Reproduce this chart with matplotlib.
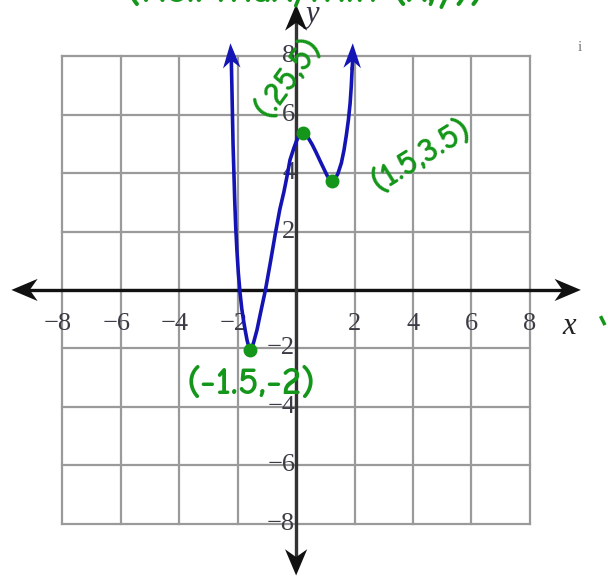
import matplotlib.pyplot as plt
import numpy as np

# points read along the graphed function
curve_x = [-2.22, -2.20, -2.18, -2.16, -2.13, -2.10, -2.07, -2.03, -1.98, -1.92,
           -1.86, -1.80, -1.74, -1.68, -1.62, -1.57, -1.51, -1.45, -1.34, -1.20,
           -1.05, -0.88, -0.71, -0.56, -0.42, -0.30, -0.21, -0.08, 0.02, 0.11,
           0.22, 0.32, 0.42, 0.55, 0.68, 0.82, 0.95, 1.05, 1.13, 1.23, 1.33,
           1.43, 1.55, 1.64, 1.72, 1.79, 1.85, 1.89, 1.92]
curve_y = [7.90, 7.00, 6.00, 5.00, 4.00, 3.00, 2.20, 1.40, 0.60, -0.10,
           -0.65, -1.05, -1.40, -1.72, -1.95, -2.05, -1.97, -1.78, -1.37, -0.70,
           0.00, 0.95, 1.94, 2.75, 3.35, 3.95, 4.45, 4.85, 5.12, 5.30,
           5.39, 5.33, 5.20, 4.98, 4.72, 4.42, 4.15, 3.94, 3.80, 3.73, 3.80,
           3.98, 4.35, 4.79, 5.30, 5.82, 6.40, 7.00, 7.60]
arrow_tips = [(-2.25, 8.45), (1.94, 8.45)]

# marked turning points
turn_x = [-1.57, 0.22, 1.23]
turn_y = [-2.05, 5.39, 3.73]

tick_vals = [-8, -6, -4, -2, 2, 4, 6, 8]

BLUE = '#1414b4'
GREEN = '#14961a'
GRID = '#9a9a9a'
LABEL = '#3c3c46'

fig = plt.figure(figsize=(6.08, 5.79), dpi=100)
ax = fig.add_axes([0, 0, 1, 1])
ax.set_xlim(-10.14, 10.68)
ax.set_ylim(-9.90, 9.93)
ax.axis('off')

# grid every 2 units
for g in range(-8, 9, 2):
    ax.plot([g, g], [-8, 8], color=GRID, lw=1.6, zorder=1)
    ax.plot([-8, 8], [g, g], color=GRID, lw=1.6, zorder=1)


def arrow_head(tip, direction, length, half_w, color, z):
    d = np.array(direction, dtype=float)
    d /= np.hypot(*d)
    n = np.array([-d[1], d[0]])
    t = np.array(tip)
    base = t - d * length
    notch = t - d * length * 0.7
    pts = [t, base + n * half_w, notch, base - n * half_w]
    ax.fill(*zip(*pts), color=color, lw=0, zorder=z)


# axes with arrows at both ends
ax.plot([-9.4, 9.4], [0, 0], color='#111111', lw=2.4, zorder=3)
ax.plot([0, 0], [-9.4, 9.4], color='#333333', lw=2.4, zorder=3)
arrow_head((-9.75, 0), (-1, 0), 0.9, 0.38, '#111111', 4)
arrow_head((9.75, 0), (1, 0), 0.9, 0.38, '#111111', 4)
arrow_head((0, 9.78), (0, 1), 0.9, 0.38, '#111111', 4)
arrow_head((0, -9.78), (0, -1), 0.9, 0.38, '#111111', 4)

serif = ['Liberation Serif', 'DejaVu Serif']
for v in tick_vals:
    if v < 0:
        ax.text(v + 0.33, -1.15, '\u2212' + str(-v), ha='right', va='center',
                fontsize=19, family=serif, color=LABEL, zorder=2)
        ax.text(-0.03, v, '\u2212' + str(-v), ha='right', va='center',
                fontsize=19, family=serif, color=LABEL, zorder=2)
    else:
        ax.text(v, -1.15, str(v), ha='center', va='center',
                fontsize=19, family=serif, color=LABEL, zorder=2)
        ax.text(-0.03, v, str(v), ha='right', va='center',
                fontsize=19, family=serif, color=LABEL, zorder=2)

ax.text(9.35, -1.25, 'x', ha='center', va='center', fontsize=22,
        family=serif, style='italic', color='#222222')
ax.text(0.55, 9.45, 'y', ha='center', va='center', fontsize=22,
        family=serif, style='italic', color='#333344')

# the graph, ending in arrows at both tops
ax.plot(curve_x, curve_y, color=BLUE, lw=2.6, solid_capstyle='round',
        solid_joinstyle='round', zorder=5)
for tip, px, py in [(arrow_tips[0], curve_x[0], curve_y[0]),
                    (arrow_tips[1], curve_x[-1], curve_y[-1])]:
    ax.plot([px, tip[0]], [py, tip[1] - 0.5], color=BLUE, lw=2.6, zorder=5)
    arrow_head(tip, (tip[0] - px, tip[1] - py), 0.85, 0.3, BLUE, 5)

# handwritten notes
ax.plot(turn_x, turn_y, 'o', color=GREEN, ms=9, zorder=6)
hand = ['Comic Neue', 'Noto Sans', 'DejaVu Sans']
ax.text(-0.25, 7.3, '(.25,5)', rotation=54, ha='center', va='center',
        fontsize=25, fontweight='bold', color=GREEN, family=hand, zorder=6)
ax.text(4.28, 4.62, '(1.5,3.5)', rotation=32, ha='center', va='center',
        fontsize=25, fontweight='bold', color=GREEN, family=hand, zorder=6)
ax.text(-1.55, -3.25, '(-1.5,-2)', ha='center', va='center',
        fontsize=28, fontweight='bold', color=GREEN, family=hand, zorder=6)
ax.text(0.3, 10.3, '(Rel. Max/Min (x,y))', ha='center', va='center',
        fontsize=30, fontweight='bold', color=GREEN, family=hand, zorder=6)
ax.text(9.73, 8.3, 'i', ha='center', va='center', fontsize=11,
        family=serif, color='#777777')
ax.plot([10.45, 10.55], [-0.95, -1.15], color=GREEN, lw=2.5)

fig.savefig('out.png', dpi=100, facecolor='white')
